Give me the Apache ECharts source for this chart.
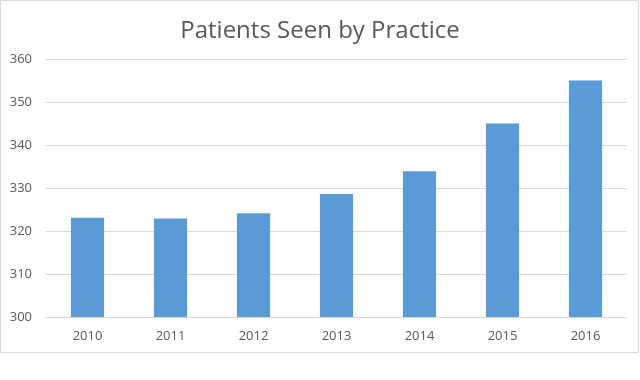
<!DOCTYPE html>
<html>
<head>
<meta charset="utf-8">
<script src="https://cdn.jsdelivr.net/npm/echarts@6/dist/echarts.min.js"></script>
<style>html,body{margin:0;padding:0;background:#fff;}#c{width:640px;height:380px;}</style>
</head>
<body>
<div id="c"></div>
<script>
const categories = ['2010','2011','2012','2013','2014','2015','2016'];
const patients = [323.1, 322.9, 324.1, 328.6, 333.9, 345.0, 355.0];
const yTicks = { min: 300, max: 360, interval: 10 };

const chart = echarts.init(document.getElementById('c'), null, {renderer:'canvas'});
chart.setOption({
  animation: false,
  backgroundColor: '#fff',
  title: {
    text: 'Patients Seen by Practice',
    left: 'center',
    top: 14,
    textStyle: { fontFamily: 'Open Sans', fontWeight: 'normal', fontSize: 24, color: '#595959' }
  },
  graphic: [{
    type: 'rect',
    shape: { x: 0.5, y: 0.5, width: 638, height: 352 },
    style: { fill: 'none', stroke: '#d9d9d9', lineWidth: 1 },
    silent: true
  }],
  grid: { left: 46, right: 13, top: 59, bottom: 63 },
  xAxis: {
    type: 'category',
    data: categories,
    axisLine: { lineStyle: { color: '#d9d9d9' } },
    axisTick: { show: false },
    axisLabel: { color: '#595959', fontSize: 13, fontFamily: 'Open Sans', margin: 13 }
  },
  yAxis: {
    type: 'value',
    min: yTicks.min, max: yTicks.max, interval: yTicks.interval,
    axisLine: { show: false },
    axisTick: { show: false },
    splitLine: { lineStyle: { color: '#d9d9d9' } },
    axisLabel: { color: '#595959', fontSize: 13, fontFamily: 'Open Sans', margin: 14 }
  },
  series: [{
    type: 'bar',
    data: patients,
    barWidth: '40%',
    itemStyle: { color: '#5B9BD5' }
  }]
});
</script>
</body>
</html>
